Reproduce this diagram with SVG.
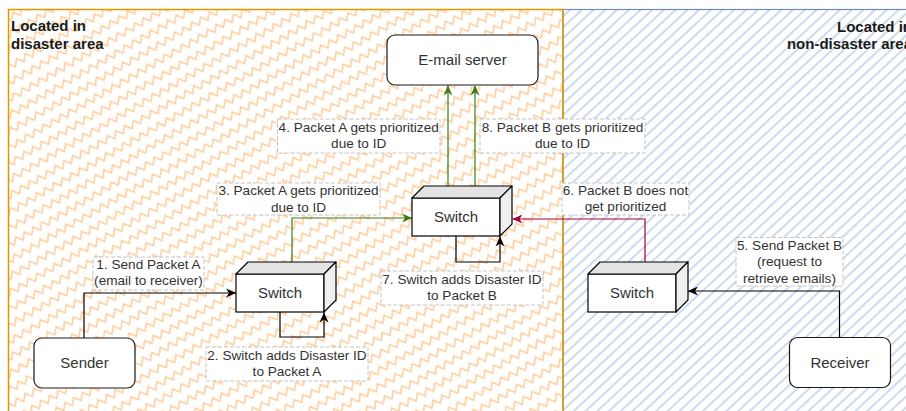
<svg xmlns="http://www.w3.org/2000/svg" xmlns:xlink="http://www.w3.org/1999/xlink" width="906" height="411" viewBox="0 0 906 411">
  <style>
    .region-title { font-family: "Liberation Sans", Arial, sans-serif; font-size: 15px; font-weight: bold; fill: #1a1a1a; }
    .node-text { font-family: "Liberation Sans", Arial, sans-serif; font-size: 15px; fill: #333333; text-anchor: middle; }
    .label-text { font-family: "Liberation Sans", Arial, sans-serif; font-size: 13.6px; fill: #333333; text-anchor: middle; }
    .label-box { fill: #ffffff; stroke: #c4c4c4; stroke-width: 1; stroke-dasharray: 4 2; }
    .rounded { fill: #ffffff; stroke: #1a1a1a; stroke-width: 1.2; }
    .edge { fill: none; stroke-width: 1.2; }
    .edge-black { stroke: #000000; marker-end: url(#arrow-black); }
    .edge-green { stroke: #3a7d15; marker-end: url(#arrow-green); }
    .edge-red { stroke: #a50040; marker-end: url(#arrow-red); }
  </style>
  <defs>
    <!-- zigzag hachure for the disaster zone -->
    <pattern id="zigzag" width="10" height="14" patternUnits="userSpaceOnUse" patternTransform="rotate(-30)">
      <path d="M-5,3 L0,9.5 L5,3 L10,9.5 L15,3" fill="none" stroke="#ffcc99" stroke-width="1.6"/>
    </pattern>
    <!-- diagonal hatch for the non-disaster zone -->
    <pattern id="hatch" width="10" height="8" patternUnits="userSpaceOnUse" patternTransform="rotate(-43)">
      <line x1="-1" y1="4" x2="11" y2="4" stroke="#c2d1ea" stroke-width="1.6"/>
    </pattern>
    <!-- classic arrowheads -->
    <marker id="arrow-black" viewBox="0 0 10 10" refX="10" refY="5" markerWidth="10" markerHeight="10" markerUnits="userSpaceOnUse" orient="auto">
      <path d="M0,0.5 L10,5 L0,9.5 L3,5 Z" fill="#000000"/>
    </marker>
    <marker id="arrow-green" viewBox="0 0 10 10" refX="10" refY="5" markerWidth="10" markerHeight="10" markerUnits="userSpaceOnUse" orient="auto">
      <path d="M0,0.5 L10,5 L0,9.5 L3,5 Z" fill="#3a7d15"/>
    </marker>
    <marker id="arrow-red" viewBox="0 0 10 10" refX="10" refY="5" markerWidth="10" markerHeight="10" markerUnits="userSpaceOnUse" orient="auto">
      <path d="M0,0.5 L10,5 L0,9.5 L3,5 Z" fill="#a50040"/>
    </marker>
    <!-- 3D box used for the switches: 100 x 50 with a 12px depth -->
    <g id="cube">
      <rect x="0" y="12" width="88" height="38" fill="#ffffff" stroke="#000000" stroke-width="1.2"/>
      <polygon points="0,12 12,0 100,0 88,12" fill="#e3e3e3" stroke="#000000" stroke-width="1.2" stroke-linejoin="round"/>
      <polygon points="88,12 100,0 100,38 88,50" fill="#efefef" stroke="#000000" stroke-width="1.2" stroke-linejoin="round"/>
    </g>
  </defs>

  <rect x="0" y="0" width="906" height="411" fill="#ffffff"/>

  <!-- zones -->
  <g id="zone-non-disaster">
    <rect x="563" y="9.5" width="360" height="420" fill="url(#hatch)" stroke="#6c8ebf" stroke-width="1.2"/>
    <text class="region-title" text-anchor="end" x="912" y="31.5">Located in</text>
    <text class="region-title" text-anchor="end" x="912" y="49">non-disaster area</text>
  </g>
  <g id="zone-disaster">
    <rect x="8.5" y="9.5" width="554.5" height="420" fill="url(#zigzag)" stroke="#d79b00" stroke-width="1.5"/>
    <text class="region-title" x="11" y="31">Located in</text>
    <text class="region-title" x="11" y="48.5">disaster area</text>
  </g>

  <!-- connectors -->
  <g id="connectors">
    <path id="e1" class="edge edge-black" d="M84,338 V293 H236"/>
    <path id="e2" class="edge edge-black" d="M280,312 V337 H324 V312.5"/>
    <path id="e3" class="edge edge-green" d="M292,262 V218 H412"/>
    <path id="e4" class="edge edge-green" d="M448,186 V85.5"/>
    <path id="e5" class="edge edge-black" d="M839.5,337.5 V291 H688"/>
    <path id="e6" class="edge edge-red" d="M645,262 V219 H512.5"/>
    <path id="e7" class="edge edge-black" d="M456,236 V262 H500 V236.5"/>
    <path id="e8" class="edge edge-green" d="M475,186 V85.5"/>
  </g>

  <!-- connector labels -->
  <g id="edge-labels">
    <g id="label-1">
      <rect class="label-box" x="93" y="257" width="111" height="33"/>
      <text class="label-text" x="148.5" y="268.5">1. Send Packet A<tspan x="148.5" dy="16.7">(email to receiver)</tspan></text>
    </g>
    <g id="label-2">
      <rect class="label-box" x="206" y="347" width="162" height="34"/>
      <text class="label-text" x="287" y="359.5">2. Switch adds Disaster ID<tspan x="287" dy="16.7">to Packet A</tspan></text>
    </g>
    <g id="label-3">
      <rect class="label-box" x="217" y="183" width="163" height="32"/>
      <text class="label-text" x="298.5" y="195">3. Packet A gets prioritized<tspan x="298.5" dy="16.7">due to ID</tspan></text>
    </g>
    <g id="label-4">
      <rect class="label-box" x="277.5" y="119" width="162.5" height="34"/>
      <text class="label-text" x="358.7" y="131.7">4. Packet A gets prioritized<tspan x="358.7" dy="16.7">due to ID</tspan></text>
    </g>
    <g id="label-5">
      <rect class="label-box" x="736" y="237.5" width="107" height="48.5"/>
      <text class="label-text" x="789.5" y="249.5">5. Send Packet B<tspan x="789.5" dy="16.7">(request to</tspan><tspan x="789.5" dy="16.7">retrieve emails)</tspan></text>
    </g>
    <g id="label-6">
      <rect class="label-box" x="562" y="183" width="127" height="32"/>
      <text class="label-text" x="625.5" y="194.5">6. Packet B does not<tspan x="625.5" dy="16.7">get prioritized</tspan></text>
    </g>
    <g id="label-7">
      <rect class="label-box" x="381" y="271" width="162" height="34"/>
      <text class="label-text" x="462" y="283.5">7. Switch adds Disaster ID<tspan x="462" dy="16.7">to Packet B</tspan></text>
    </g>
    <g id="label-8">
      <rect class="label-box" x="480" y="119" width="165" height="34"/>
      <text class="label-text" x="562.5" y="131.7">8. Packet B gets prioritized<tspan x="562.5" dy="16.7">due to ID</tspan></text>
    </g>
  </g>

  <!-- nodes -->
  <g id="email-server">
    <rect class="rounded" x="387" y="35" width="151" height="50" rx="8" ry="8"/>
    <text class="node-text" x="462.5" y="65.3">E-mail server</text>
  </g>
  <g id="sender">
    <rect class="rounded" x="34" y="338" width="101" height="50" rx="8" ry="8"/>
    <text class="node-text" x="84.5" y="368.3">Sender</text>
  </g>
  <g id="receiver">
    <rect class="rounded" x="789.5" y="337.5" width="101" height="50" rx="8" ry="8"/>
    <text class="node-text" x="840" y="367.8">Receiver</text>
  </g>
  <g id="switch-1">
    <use xlink:href="#cube" href="#cube" x="236" y="262"/>
    <text class="node-text" x="280" y="298.3">Switch</text>
  </g>
  <g id="switch-2">
    <use xlink:href="#cube" href="#cube" x="412" y="186"/>
    <text class="node-text" x="456" y="222.3">Switch</text>
  </g>
  <g id="switch-3">
    <use xlink:href="#cube" href="#cube" x="588" y="262"/>
    <text class="node-text" x="632" y="298.3">Switch</text>
  </g>
</svg>
